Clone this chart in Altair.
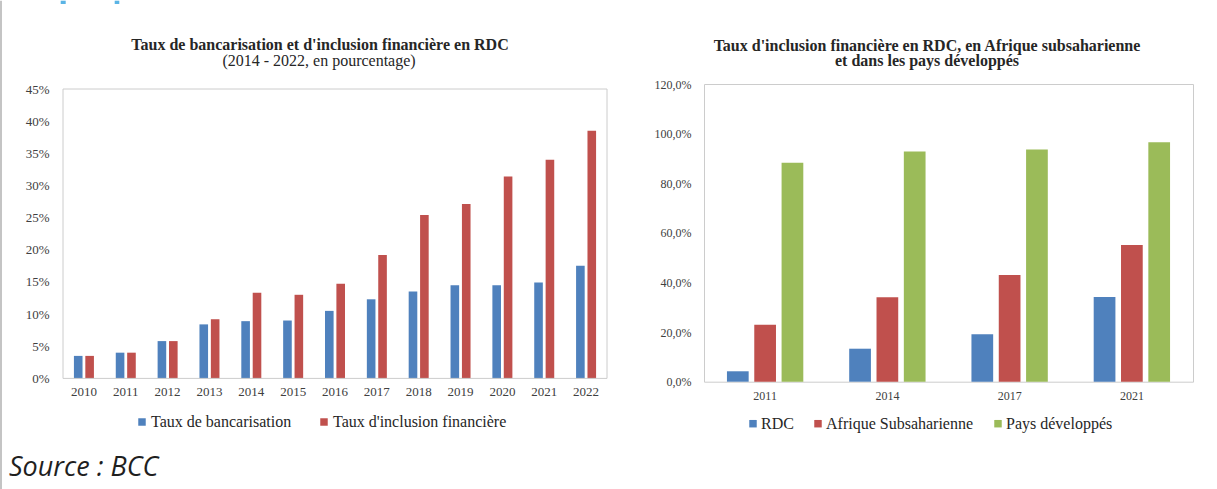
import altair as alt
import pandas as pd

# ---------------- data ----------------
years = ["2010", "2011", "2012", "2013", "2014", "2015", "2016",
         "2017", "2018", "2019", "2020", "2021", "2022"]
bancarisation = [3.5, 4.0, 5.8, 8.4, 8.9, 9.0, 10.5, 12.3, 13.5, 14.5, 14.5, 14.9, 17.5]
inclusion = [3.5, 4.0, 5.8, 9.2, 13.3, 13.0, 14.7, 19.2, 25.4, 27.1, 31.4, 34.0, 38.5]
series_left = ["Taux de bancarisation", "Taux d'inclusion financière"]

years_r = ["2011", "2014", "2017", "2021"]
rdc = [4.2, 13.3, 19.1, 34.1]
afrique = [23.0, 34.0, 43.0, 55.1]
developpes = [88.3, 92.8, 93.6, 96.5]
series_right = ["RDC", "Afrique Subsaharienne", "Pays développés"]

left_ticks = [0, 5, 10, 15, 20, 25, 30, 35, 40, 45]
right_ticks = [0, 20, 40, 60, 80, 100, 120]

title_left = "Taux de bancarisation et d'inclusion financière en RDC"
subtitle_left = "(2014 - 2022, en pourcentage)"
title_right_1 = "Taux d'inclusion financière en RDC, en Afrique subsaharienne"
title_right_2 = "et dans les pays développés"
source_text = "Source : BCC"

BLUE, RED, GREEN = "#4F81BD", "#C0504D", "#9BBB59"
SERIF = "Liberation Serif"
TXT = "#262626"
FRAME = "#cccccc"

# ---------------- tables ----------------
left_df = pd.DataFrame({
    "annee": years * 2,
    "serie": [series_left[0]] * len(years) + [series_left[1]] * len(years),
    "valeur": bancarisation + inclusion,
})
right_df = pd.DataFrame({
    "annee": years_r * 3,
    "serie": sum([[s] * len(years_r) for s in series_right], []),
    "valeur": rdc + afrique + developpes,
})
one = pd.DataFrame({"k": [0]})

# both plot areas start at the same y (row origin); the left frame is drawn lower
LW, LH = 544, 294.4
L_TOP = 45 * LH / 289.4          # domain top so that 45 % sits 5 px below origin
RW, RH = 489, 297.7


def text_layer(txt, x, y, size=16, weight="bold", font=SERIF, color=TXT,
               align="center", style="normal"):
    return alt.Chart(pd.DataFrame({"t": [txt]})).mark_text(
        align=align, baseline="alphabetic", font=font, fontSize=size,
        fontWeight=weight, fontStyle=style, color=color
    ).encode(text="t:N", x=alt.value(x), y=alt.value(y))


def rect_layer(x, x2, y, y2, color, opacity=1.0):
    return alt.Chart(one).mark_rect(color=color, opacity=opacity).encode(
        x=alt.value(x), x2=alt.value(x2), y=alt.value(y), y2=alt.value(y2))


left_y_axis = alt.Axis(values=left_ticks, labelExpr="datum.value + '%'",
                       grid=False, domain=False, ticks=False, labelPadding=14,
                       labelFontSize=13, labelOverlap=False)
left_y_scale = alt.Scale(domain=[0, L_TOP], nice=False, zero=True)

# ---------------- left chart ----------------
left_bars = alt.Chart(left_df).mark_bar().encode(
    x=alt.X("annee:N", sort=years, title=None,
            scale=alt.Scale(paddingInner=0, paddingOuter=0),
            axis=alt.Axis(labelAngle=0, ticks=False, domain=False, labelPadding=7,
                          labelFontSize=13, labelOverlap=False)),
    xOffset=alt.XOffset("serie:N", sort=series_left,
                        scale=alt.Scale(paddingInner=0.245, paddingOuter=0.958)),
    y=alt.Y("valeur:Q", title=None, scale=left_y_scale, axis=left_y_axis),
    color=alt.Color("serie:N", sort=series_left,
                    scale=alt.Scale(domain=series_left, range=[BLUE, RED]),
                    legend=alt.Legend(orient="none", legendX=71, legendY=330,
                                      direction="horizontal", title=None,
                                      symbolType="square", symbolSize=56,
                                      symbolStrokeWidth=0, labelFont=SERIF,
                                      labelFontSize=16, labelColor=TXT,
                                      labelLimit=400,
                                      columnPadding=24, labelOffset=1)),
)

left_frame = alt.Chart(one).mark_rect(
    fillOpacity=0, stroke=FRAME, strokeWidth=1
).encode(
    x=alt.value(0), x2=alt.value(LW),
    y=alt.YDatum(45, type="quantitative", title=None, scale=left_y_scale,
                 axis=left_y_axis),
    y2=alt.Y2Datum(0),
)

left = alt.layer(
    left_bars,
    left_frame,
    text_layer(title_left, 257, -34),
    text_layer(subtitle_left, 256, -18, weight="normal"),
    text_layer(source_text, -54, 391.7, size=27, weight="normal",
               font="Open Sans", color="#1f1f1f", align="left", style="italic"),
    rect_layer(-63, -61, -83.3, 405.7, "#c4c4c4"),
    rect_layer(-2.3, 2.7, -83.3, -80, "#5ab4e5"),
    rect_layer(51.7, 56.3, -83.3, -80, "#5ab4e5"),
    rect_layer(548, 549, 10, 11, "#ffffff", 0),
).properties(width=LW, height=LH, view=alt.ViewBackground(stroke=None))

# ---------------- right chart ----------------
right_bars = alt.Chart(right_df).mark_bar().encode(
    x=alt.X("annee:N", sort=years_r, title=None,
            scale=alt.Scale(paddingInner=0, paddingOuter=0),
            axis=alt.Axis(labelAngle=0, ticks=False, domain=False, labelPadding=9,
                          labelFontSize=12, labelOverlap=False)),
    xOffset=alt.XOffset("serie:N", sort=series_right,
                        scale=alt.Scale(paddingInner=0.205, paddingOuter=0.84)),
    y=alt.Y("valeur:Q", title=None,
            scale=alt.Scale(domain=[0, 120], nice=False, zero=True),
            axis=alt.Axis(values=right_ticks,
                          labelExpr="replace(format(datum.value, '.1f'), '.', ',') + '%'",
                          grid=False, domain=False, ticks=False, labelPadding=13,
                          labelFontSize=12, labelOverlap=False)),
    color=alt.Color("serie:N", sort=series_right,
                    scale=alt.Scale(domain=series_right, range=[BLUE, RED, GREEN]),
                    legend=alt.Legend(orient="none", legendX=41, legendY=331.7,
                                      direction="horizontal", title=None,
                                      symbolType="square", symbolSize=56,
                                      symbolStrokeWidth=0, labelFont=SERIF,
                                      labelFontSize=16, labelColor=TXT,
                                      labelLimit=400,
                                      columnPadding=16, labelOffset=0)),
)

right = alt.layer(
    right_bars,
    text_layer(title_right_1, 223, -33.5),
    text_layer(title_right_2, 223, -17.8),
    rect_layer(-60, -59, -40, -39, "#ffffff", 0),
).properties(width=RW, height=RH)

chart = alt.hconcat(left, right, spacing=31).resolve_scale(
    color="independent", x="independent", y="independent", xOffset="independent"
).properties(
    padding={"left": 0, "top": 0, "right": 0, "bottom": 0},
    background="white",
).configure_view(
    stroke=FRAME, strokeWidth=1
).configure_axis(
    labelFont=SERIF, labelColor="#404040"
)

chart.save("out.html", embed_options={"renderer": "svg", "actions": False})
